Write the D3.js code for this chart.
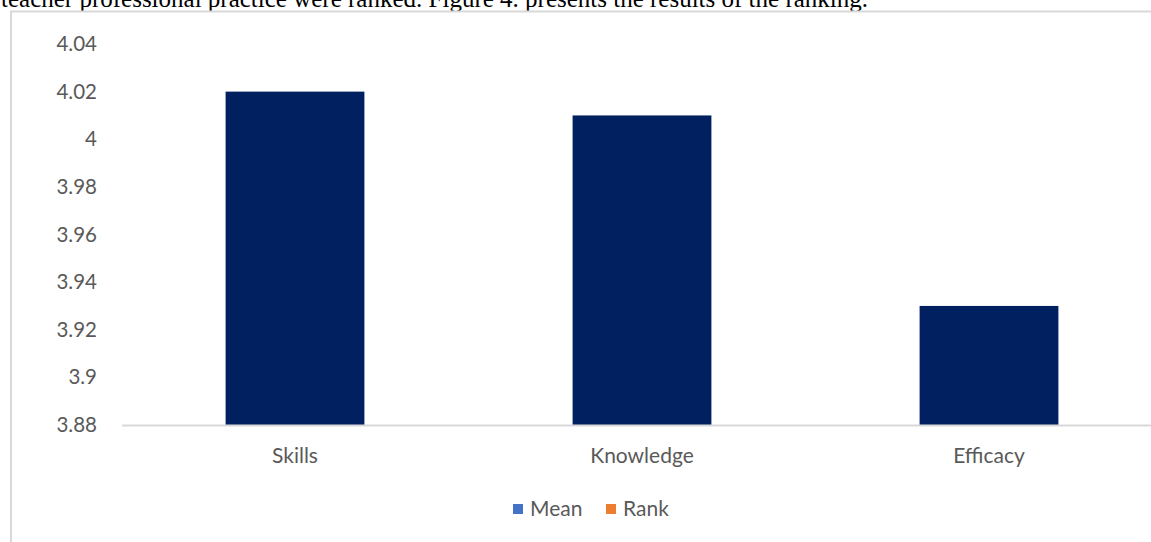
<!DOCTYPE html>
<html>
<head>
<meta charset="utf-8">
<script src="https://cdn.jsdelivr.net/npm/d3@7"></script>
<style>
  body { margin: 0; background: #fff; }
  svg { display: block; }
</style>
</head>
<body>
<svg id="chart" width="1151" height="542"></svg>
<script>
// data
var categories = ['Skills', 'Knowledge', 'Efficacy'];
var means = [4.02, 4.01, 3.93];
var yTicks = [3.88, 3.9, 3.92, 3.94, 3.96, 3.98, 4, 4.02, 4.04];
var legendNames = ['Mean', 'Rank'];
var legendColors = ['#4472c4', '#ed7d31'];

var svg = d3.select('#chart');

// the cut-off line of body text above the figure
svg.append('text')
  .attr('x', 1)
  .attr('y', 7)
  .style('font-family', '"Liberation Serif", serif')
  .style('font-size', '25px')
  .style('fill', '#000')
  .text('teacher professional practice were ranked. Figure 4. presents the results of the ranking.');

// chart frame (left and top edges visible)
svg.append('path')
  .attr('d', 'M11,542 L11,11.5 L1151,11.5')
  .style('fill', 'none')
  .style('stroke', '#d9d9d9')
  .style('stroke-width', 2);

var x = d3.scaleBand()
  .domain(categories)
  .range([121.5, 1162.5])
  .paddingInner(0.6)
  .paddingOuter(0.3);

var y = d3.scaleLinear()
  .domain([3.88, 4.04])
  .range([425, 44]);

// y axis labels
var yAxis = svg.append('g')
  .attr('transform', 'translate(97,0)')
  .call(d3.axisLeft(y).tickValues(yTicks).tickSize(0).tickPadding(0)
    .tickFormat(function (d) { return String(+d.toFixed(2)); }));
yAxis.select('.domain').remove();
yAxis.selectAll('text')
  .style('font-family', 'Lato, "Open Sans", sans-serif')
  .style('font-size', '20.5px')
  .style('fill', '#595959');

// bars
svg.selectAll('rect.bar')
  .data(means)
  .enter()
  .append('rect')
  .attr('class', 'bar')
  .attr('x', function (d, i) { return x(categories[i]); })
  .attr('width', x.bandwidth())
  .attr('y', function (d) { return y(d); })
  .attr('height', function (d) { return y(3.88) - y(d); })
  .style('fill', '#002060');

// category axis
var xAxis = svg.append('g')
  .attr('transform', 'translate(0,' + y(3.88) + ')')
  .call(d3.axisBottom(x).tickSize(0).tickPadding(23));
xAxis.select('.domain').remove();
xAxis.selectAll('text')
  .style('font-family', 'Lato, "Open Sans", sans-serif')
  .style('font-size', '21px')
  .style('fill', '#595959');

svg.append('line')
  .attr('x1', 122)
  .attr('x2', 1151)
  .attr('y1', y(3.88) + 0.5)
  .attr('y2', y(3.88) + 0.5)
  .style('stroke', '#d9d9d9')
  .style('stroke-width', 2);

// legend
var legendX = [513, 606];
var legend = svg.selectAll('g.legend')
  .data(legendNames)
  .enter()
  .append('g')
  .attr('class', 'legend')
  .attr('transform', function (d, i) { return 'translate(' + legendX[i] + ',504)'; });
legend.append('rect')
  .attr('width', 10)
  .attr('height', 10)
  .style('fill', function (d, i) { return legendColors[i]; });
legend.append('text')
  .attr('x', 17)
  .attr('y', 12)
  .style('font-family', 'Lato, "Open Sans", sans-serif')
  .style('font-size', '21px')
  .style('fill', '#595959')
  .text(function (d) { return d; });
</script>
</body>
</html>
